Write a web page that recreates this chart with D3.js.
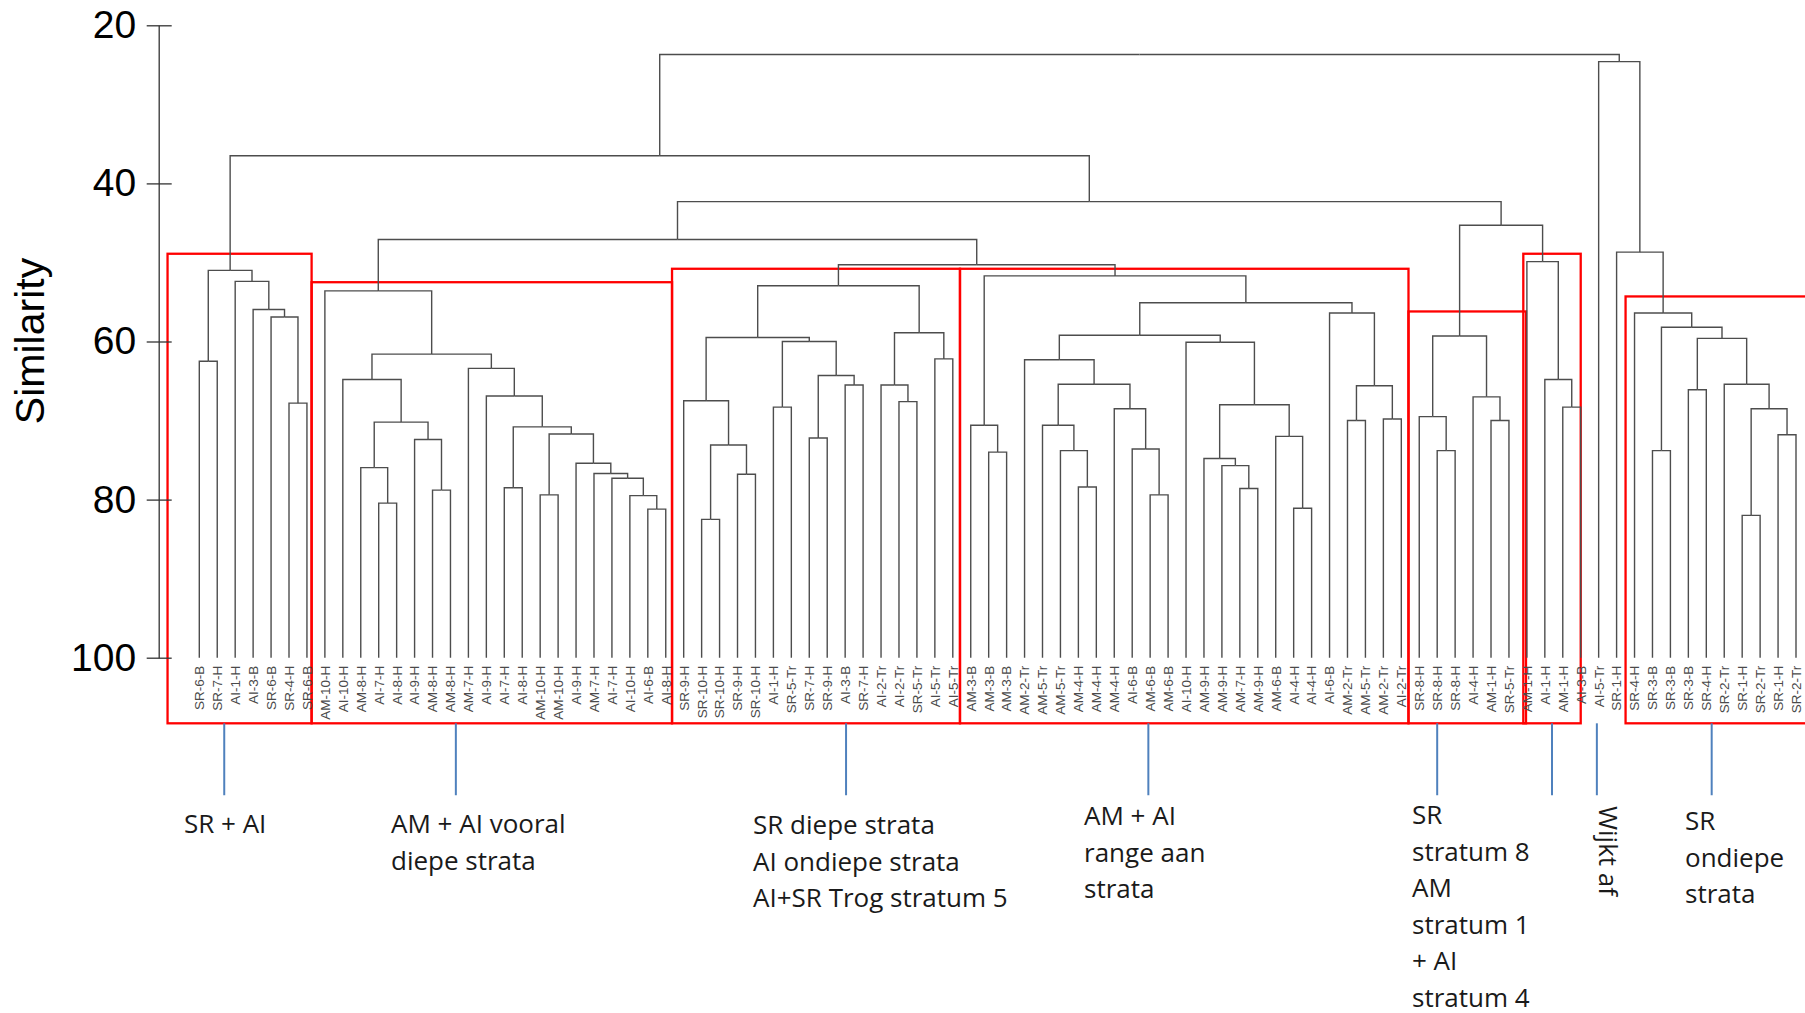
<!DOCTYPE html>
<html><head><meta charset="utf-8">
<script src="https://cdn.jsdelivr.net/npm/d3@7"></script>
<style>body{margin:0;background:#fff;} svg{display:block;}</style>
</head><body>
<svg id="chart" width="1805" height="1013"></svg>
<script>
// ---------- data ----------
const leafLabels = [
 "SR-6-B","SR-7-H","AI-1-H","AI-3-B","SR-6-B","SR-4-H","SR-6-B",
 "AM-10-H","AI-10-H","AM-8-H","AI-7-H","AI-8-H","AI-9-H","AM-8-H","AM-8-H","AM-7-H","AI-9-H","AI-7-H","AI-8-H","AM-10-H","AM-10-H","AI-9-H","AM-7-H","AI-7-H","AI-10-H","AI-6-B","AI-8-H",
 "SR-9-H","SR-10-H","SR-10-H","SR-9-H","SR-10-H","AI-1-H","SR-5-Tr","SR-7-H","SR-9-H","AI-3-B","SR-7-H","AI-2-Tr","AI-2-Tr","SR-5-Tr","AI-5-Tr","AI-5-Tr",
 "AM-3-B","AM-3-B","AM-3-B","AM-2-Tr","AM-5-Tr","AM-5-Tr","AM-4-H","AM-4-H","AM-4-H","AI-6-B","AM-6-B","AM-6-B","AI-10-H","AM-9-H","AM-9-H","AM-7-H","AM-9-H","AM-6-B","AI-4-H","AI-4-H","AI-6-B","AM-2-Tr","AM-5-Tr","AM-2-Tr","AI-2-Tr",
 "SR-8-H","SR-8-H","SR-8-H","AI-4-H","AM-1-H","SR-5-Tr",
 "AM-1-H","AI-1-H","AM-1-H","AI-3-B",
 "AI-5-Tr","SR-1-H",
 "SR-4-H","SR-3-B","SR-3-B","SR-3-B","SR-4-H","SR-2-Tr","SR-1-H","SR-2-Tr","SR-1-H","SR-2-Tr"
];
// merges: [childA, childB, similarity]; ids 0..89 are leaves, 90+ are merges in order
const merges = [
 [0,1,62.5],[5,6,67.8],[4,91,56.9],[3,92,55.95],[2,93,52.4],[90,94,51.0],
 [10,11,80.45],[9,96,75.95],[13,14,78.8],[12,98,72.4],[97,99,70.2],[8,100,64.8],
 [25,26,81.2],[24,102,79.5],[23,103,77.3],[22,104,76.7],[21,105,75.4],[19,20,79.4],
 [107,106,71.7],[17,18,78.5],[109,108,70.8],[16,110,66.9],[15,111,63.4],[101,112,61.6],[7,113,53.6],
 [28,29,82.5],[30,31,76.8],[115,116,73.1],[27,117,67.5],[32,33,68.3],[34,35,72.2],
 [36,37,65.5],[120,121,64.3],[119,122,60.0],[118,123,59.5],[39,40,67.6],[38,125,65.5],
 [41,42,62.2],[126,127,58.9],[124,128,52.95],
 [44,45,74.0],[43,130,70.6],[49,50,78.4],[48,132,73.8],[47,133,70.6],[53,54,79.4],
 [52,135,73.6],[51,136,68.5],[134,137,65.4],[46,138,62.3],[58,59,78.6],[57,140,75.7],
 [56,141,74.8],[61,62,81.1],[60,143,72.0],[142,144,68.0],[55,145,60.1],[139,146,59.2],
 [64,65,70.0],[66,67,69.8],[148,149,65.6],[63,150,56.4],[147,151,55.1],[131,152,51.7],
 [129,153,50.3],[114,154,47.1],
 [69,70,73.8],[68,156,69.5],[72,73,70.0],[71,158,67.0],[157,159,59.3],
 [76,77,68.3],[75,161,64.8],[74,162,49.9],[160,163,45.3],[155,164,42.3],[95,165,36.5],
 [81,82,73.8],[83,84,66.1],[86,87,82.0],[88,89,71.8],[169,170,68.5],[85,171,65.4],
 [168,172,59.6],[167,173,58.2],[80,174,56.4],[79,175,48.7],[78,176,24.6],[166,177,23.7]
];
const yTicks = [20,40,60,80,100];
const yLabel = "Similarity";
// group boxes: leaf-index span and similarity of top edge
const boxFrom = [-1.77, 6.26, 26.35, 42.4, 67.4, 73.8, 79.5];
const boxTo   = [ 6.26, 26.35, 42.4, 67.4, 73.95, 77.0, 90.5];
const boxTop  = [48.9, 52.5, 50.8, 50.8, 56.2, 48.9, 54.3];
const boxBottom = 108.3;
// group notes: leaf-index of pointer line and text lines
const noteAt = [1.39, 14.3, 36.05, 52.9, 69.0, 75.4, 77.9, 84.3];
const noteLines = [
 ["SR + AI"],
 ["AM + AI vooral","diepe strata"],
 ["SR diepe strata","AI ondiepe strata","AI+SR Trog stratum 5"],
 ["AM + AI","range aan","strata"],
 ["SR","stratum 8","AM","stratum 1","+ AI","stratum 4"],
 [],
 ["Wijkt af"],
 ["SR","ondiepe","strata"]
];
// ---------- layout ----------
const noteTextPos = [[184,833],[391,833],[753,834],[1084,825],[1412,824],null,[1599,806],[1685,830]];
const lineStep = 36.5;

const svg = d3.select("#chart");
const x = d3.scaleLinear().domain([0, leafLabels.length-1]).range([199.3, 1796]);
const y = d3.scaleLinear().domain([20,100]).range([25.3, 657.7]);

// build hierarchy
const nodes = leafLabels.map((name,i)=>({id:i,name,sim:100,order:i}));
merges.forEach(([a,b,s],k)=>nodes.push({id:leafLabels.length+k, sim:s, children:[nodes[a],nodes[b]]}));
const root = d3.hierarchy(nodes[nodes.length-1]);
root.eachAfter(n=>{
  n.px = n.children ? d3.mean(n.children, c=>c.px) : x(n.data.order);
  n.py = y(n.data.sim);
});

// red boxes
const boxG = svg.append("g");
boxFrom.forEach((f,i)=>{
  boxG.append("rect")
    .attr("x", x(f)).attr("y", y(boxTop[i]))
    .attr("width", x(boxTo[i]) - x(f)).attr("height", y(boxBottom) - y(boxTop[i]))
    .attr("fill","none").attr("stroke","#ff0000").attr("stroke-width",2.3);
});

// dendrogram links
const linkG = svg.append("g").attr("fill","none").attr("stroke","#4d4d4d").attr("stroke-width",1.4);
root.each(n=>{
  if(!n.children) return;
  n.children.forEach(c=>{
    linkG.append("path").attr("d", `M${c.px},${c.py}V${n.py}H${n.px}`);
  });
});

// leaf labels
svg.append("g").selectAll("text").data(root.leaves()).join("text")
  .attr("transform", d=>`translate(${d.px},${y(100)+8}) rotate(-90)`)
  .attr("dy","0.36em")
  .attr("text-anchor","end")
  .attr("font-family","Liberation Sans, Arial, sans-serif")
  .attr("font-size",13.5)
  .attr("fill","#4a4a4a")
  .text(d=>d.data.name);

// y axis
const axis = d3.axisLeft(y).tickValues(yTicks).tickSizeInner(12).tickSizeOuter(0).tickPadding(10.5);
const ag = svg.append("g").attr("transform","translate(158.7,0)").call(axis);
ag.select(".domain").attr("stroke","#333").attr("stroke-width",1.3);
ag.selectAll(".tick line").attr("x1",13).attr("stroke","#333").attr("stroke-width",1.3);
ag.selectAll(".tick text").attr("font-family","Liberation Sans, Arial, sans-serif").attr("font-size",39).attr("fill","#000");
svg.append("text").attr("transform","translate(44,341) rotate(-90)")
  .attr("text-anchor","middle").attr("font-family","Liberation Sans, Arial, sans-serif")
  .attr("font-size",41).attr("fill","#000").text(yLabel);

// notes
const noteG = svg.append("g");
noteAt.forEach((a,i)=>{
  noteG.append("line").attr("x1",x(a)).attr("x2",x(a))
    .attr("y1", y(boxBottom)).attr("y2", y(117.4))
    .attr("stroke","#4f81bd").attr("stroke-width",2);
  const p = noteTextPos[i];
  if(!p) return;
  if(noteLines[i][0]==="Wijkt af"){
    noteG.append("text").attr("transform",`translate(${p[0]},${p[1]}) rotate(90)`)
      .attr("font-family","Open Sans, sans-serif").attr("font-size",26).attr("fill","#1a1a1a")
      .text(noteLines[i][0]);
    return;
  }
  noteLines[i].forEach((t,j)=>{
    noteG.append("text").attr("x",p[0]).attr("y",p[1]+j*lineStep)
      .attr("font-family","Open Sans, sans-serif").attr("font-size",26).attr("fill","#1a1a1a")
      .text(t);
  });
});
</script>
</body></html>
